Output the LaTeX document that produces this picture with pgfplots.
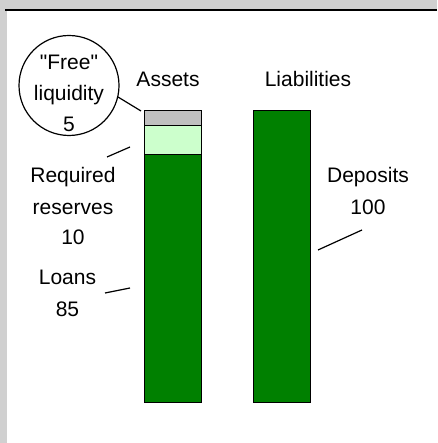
\documentclass[border=0pt]{standalone}
\usepackage{fontspec}
\setmainfont{Liberation Sans}[Ligatures=TeXOff]
\usepackage{pgfplots}
\pgfplotsset{compat=1.18}

\definecolor{bargreen}{HTML}{008000}
\definecolor{reservegreen}{HTML}{CCFFCC}
\definecolor{freegray}{HTML}{C0C0C0}
\definecolor{framegray}{HTML}{D0D0D0}
\newcommand\lbl{\fontsize{21bp}{31bp}\selectfont}

\begin{document}
\begin{tikzpicture}[x=1bp,y=1bp]
% panel background and frame
\fill[framegray] (0,0) rectangle (437,443);
\fill[white] (7,0) rectangle (437,433);
\draw[line width=1.7bp] (5,433) -- (437,433);

\begin{axis}[
    at={(0,0)}, anchor=south west,
    scale only axis,
    width=437bp, height=443bp,
    xmin=-1.5826, xmax=2.4266,
    ymin=-13.70, ymax=138.01,
    hide axis,
    ybar stacked,
    bar width=57bp,
    every axis plot/.append style={draw=black, line width=1bp},
]
% Loans 85 / Deposits 100
\addplot[fill=bargreen] coordinates {(0,85) (1,100)};
% Required reserves
\addplot[fill=reservegreen] coordinates {(0,10) (1,0)};
% "Free" liquidity
\addplot[fill=freegray] coordinates {(0,5) (1,0)};
\end{axis}

% headings
\node[anchor=base, font=\lbl] at (168,356) {Assets};
\node[anchor=base, font=\lbl] at (308,356) {Liabilities};

% free liquidity callout
\draw[line width=1.2bp] (69,357.5) circle (50);
\node[anchor=base, font=\lbl] at (69,373) {"Free"};
\node[anchor=base, font=\lbl] at (69,342) {liquidity};
\node[anchor=base, font=\lbl] at (69,311) {5};
\draw[line width=1.2bp] (118,346) -- (141,332);

% required reserves
\node[anchor=base, font=\lbl] at (73,260) {Required};
\node[anchor=base, font=\lbl] at (73,228) {reserves};
\node[anchor=base, font=\lbl] at (73,198) {10};
\draw[line width=1.2bp] (107,286) -- (130,296);

% loans
\node[anchor=base, font=\lbl] at (67.5,158) {Loans};
\node[anchor=base, font=\lbl] at (67.5,126) {85};
\draw[line width=1.2bp] (105,150) -- (130,155);

% deposits
\node[anchor=base, font=\lbl] at (368,260) {Deposits};
\node[anchor=base, font=\lbl] at (368,228) {100};
\draw[line width=1.2bp] (318,193) -- (362,213);
\end{tikzpicture}
\end{document}
